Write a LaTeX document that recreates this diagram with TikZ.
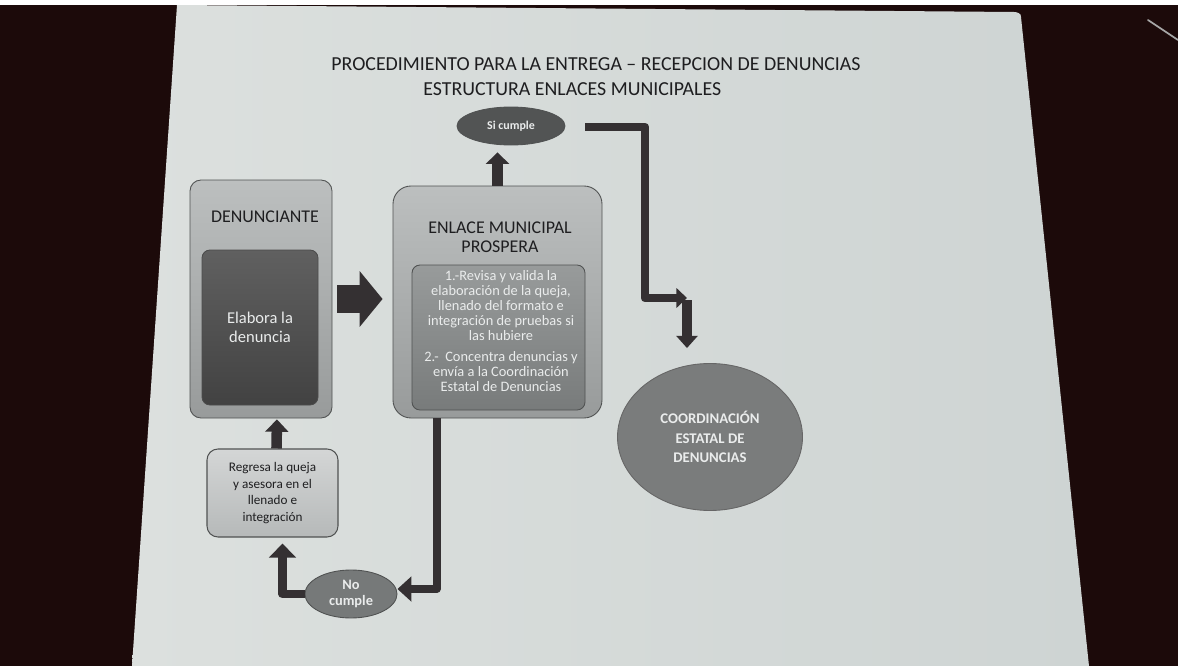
\documentclass[tikz,border=0pt]{standalone}
\usepackage{fontspec}
\setmainfont{Carlito}
\usetikzlibrary{arrows.meta,calc,shapes.geometric}
\definecolor{tablec}{RGB}{28,10,10}
\definecolor{paperL}{RGB}{220,224,222}
\definecolor{paperR}{RGB}{206,212,211}
\definecolor{arrowc}{RGB}{52,48,50}
\definecolor{outerA}{RGB}{188,191,191}
\definecolor{outerB}{RGB}{152,155,155}
\definecolor{darkA}{RGB}{96,96,96}
\definecolor{darkB}{RGB}{66,66,66}
\definecolor{midA}{RGB}{152,155,155}
\definecolor{midB}{RGB}{120,123,123}
\definecolor{lightA}{RGB}{212,214,214}
\definecolor{lightB}{RGB}{182,185,185}
\definecolor{ellDark}{RGB}{82,84,84}
\definecolor{ellMid}{RGB}{118,121,121}
\definecolor{ellCoord}{RGB}{122,124,124}
\definecolor{lighttext}{RGB}{234,236,236}
\definecolor{darktext}{RGB}{30,30,32}
\definecolor{edgec}{RGB}{80,82,82}
\def\PX{0.02cm}
\begin{document}
\begin{tikzpicture}[x=0.02cm,y=-0.02cm,
  outerbox/.style={draw=edgec, line width=0.5pt, rounded corners=0.22cm, top color=outerA, bottom color=outerB, inner sep=0pt},
  darkbox/.style={draw=black!70, line width=0.5pt, rounded corners=0.16cm, top color=darkA, bottom color=darkB, inner sep=0pt},
  midbox/.style={draw=edgec, line width=0.5pt, rounded corners=0.16cm, top color=midA, bottom color=midB, inner sep=0pt},
  lightbox/.style={draw=edgec, line width=0.6pt, rounded corners=0.22cm, top color=lightA, bottom color=lightB, inner sep=0pt},
  oval/.style={ellipse, draw=edgec, line width=0.5pt, inner sep=0pt, text=lighttext, align=center},
  lbl/.style={text=darktext, align=center},
  titletext/.style={text=darktext, inner sep=0pt, align=center, font=\fontsize{11.3}{14.2}\selectfont},
  thickarrow/.style={draw=arrowc, line width=#1},
]
\useasboundingbox (0,0) rectangle (1178,666);
% background: table, paper
\fill[tablec] (0,0) rectangle (1178,666);
\shade[left color=paperL, right color=paperR] (177,5) -- (1014,12) to[out=0,in=80] (1021,17) -- (1089,666) -- (132,666) -- cycle;
\fill[white] (0,0) rectangle (1178,5);
\draw[gray!70, line width=1pt, line cap=round] (1148,20) -- (1178,40);

% title
\node[titletext] (title) at (596,77) {PROCEDIMIENTO PARA LA ENTREGA -- RECEPCION DE DENUNCIAS\\ESTRUCTURA ENLACES MUNICIPALES\hspace*{27pt}};

% denunciante
\node[outerbox, minimum width=142*\PX, minimum height=238*\PX] (den) at (261,299) {};
\node[lbl, font=\fontsize{10.2}{12}\selectfont] (denlbl) at (265,217) {DENUNCIANTE};
\node[darkbox, minimum width=116*\PX, minimum height=155*\PX, text=lighttext, align=center,
      font=\fontsize{9.4}{11}\selectfont] (elab) at (260,327.5) {Elabora la\\denuncia};

% enlace
\node[outerbox, rounded corners=0.36cm, minimum width=209*\PX, minimum height=232*\PX] (enl) at (497.5,302) {};
\node[lbl, font=\fontsize{10.2}{10.8}\selectfont] (enllbl) at (500,237.5) {ENLACE MUNICIPAL\\PROSPERA};
\node[midbox, minimum width=173*\PX, minimum height=145*\PX] (enlin) at (498.5,337.5) {};
\node[text=lighttext, align=center, font=\fontsize{8.2}{8.6}\selectfont] (enltxt) at (501,331)
  {1.-Revisa y valida la\\elaboración de la queja,\\llenado del formato e\\integración de pruebas si\\las hubiere\\[3pt]2.-\ \ Concentra denuncias y\\envía a la Coordinación\\Estatal de Denuncias};

% si cumple
\node[oval, fill=ellDark, minimum width=108*\PX, minimum height=38*\PX, font=\bfseries\fontsize{6.8}{8}\selectfont] (si) at (511,126) {Si cumple};

% no cumple
\node[oval, fill=ellMid, minimum width=92*\PX, minimum height=48*\PX, font=\bfseries\fontsize{8.2}{9}\selectfont] (no) at (351,594) {No\\cumple};

% regresa
\node[lightbox, minimum width=131*\PX, minimum height=88*\PX, text=darktext, align=center,
      font=\fontsize{7.5}{9.6}\selectfont] (reg) at (272.5,493) {Regresa la queja\\y asesora en el\\llenado e\\integración};

% coordinacion
\node[oval, fill=ellCoord, draw=black!60, minimum width=185*\PX, minimum height=147*\PX,
      font=\bfseries\fontsize{8.4}{11.3}\selectfont] (coord) at (710,437) {COORDINACIÓN\\ESTATAL DE\\DENUNCIAS};

% connectors
\draw[thickarrow=15.9pt, -{Triangle[width=31pt,length=13pt]}]
  ($(den.east)+(5,0)$) -- ($(enl.west)+(-10,-3)$);
\draw[thickarrow=6pt, -{Triangle[width=13pt,length=6.5pt]}]
  (enl.north) -- ($(enl.north |- si.south)+(0,7)$);
\coordinate (k1) at (645,298);
\coordinate (k2) at (687,298);
\coordinate (k3) at (687,300);
\draw[thickarrow=5pt, line join=round, -{Triangle[width=11pt,length=6pt]}]
  ($(si.east)+(20,1)$) -| (k1) -- (k2);
\draw[thickarrow=5.7pt, -{Triangle[width=12pt,length=7pt]}]
  (k3) -- ($(k3 |- coord.north)+(0,-15)$);
\draw[thickarrow=4.6pt, line join=round, -{Triangle[width=14pt,length=8pt]}]
  ($(enl.south west)+(44,0)$) |- ($(no.east)+(0,-5)$);
\draw[thickarrow=4.8pt, line join=round, -{Triangle[width=15pt,length=8pt]}]
  (no.west) -| ($(reg.south)+(10,6)$);
\draw[thickarrow=6pt, -{Triangle[width=13pt,length=7pt]}]
  ($(reg.north)+(4,0)$) -- ($(den.south)+(16,1)$);
\end{tikzpicture}
\end{document}
